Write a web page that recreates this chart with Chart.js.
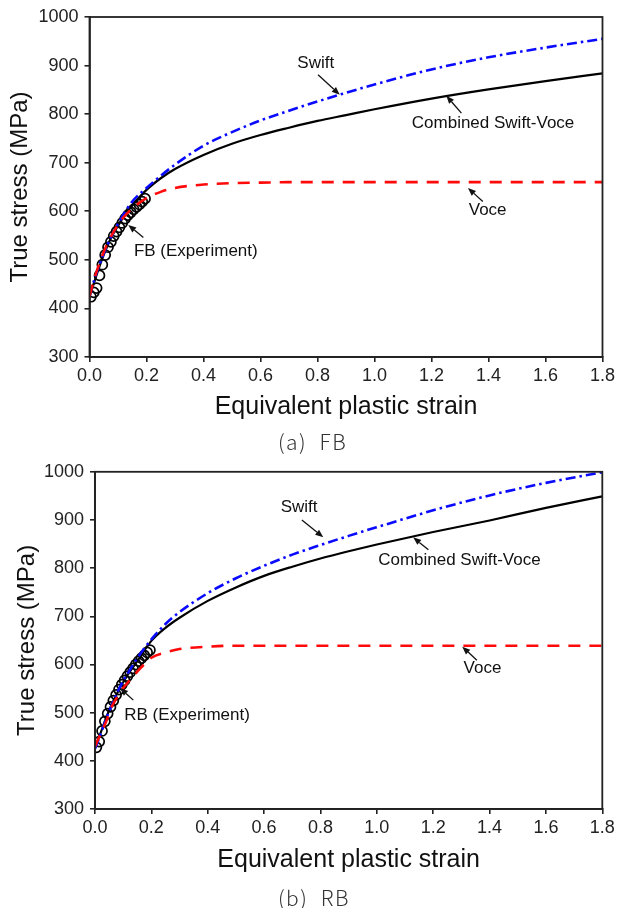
<!DOCTYPE html>
<html>
<head>
<meta charset="utf-8">
<script src="https://cdn.jsdelivr.net/npm/chart.js@4.4.1/dist/chart.umd.min.js"></script>
<style>
  html, body { margin: 0; padding: 0; background: #fff; }
  body { width: 618px; height: 908px; position: relative; overflow: hidden; }
  canvas { position: absolute; left: 0; }
  .cap { position: absolute; left: 278px; font-family: "Noto Sans CJK KR", "Noto Sans", sans-serif; font-weight: 300; font-size: 21px; letter-spacing: 1.5px; color: #333; white-space: pre; line-height: 24px; opacity: 0.999; will-change: transform; }
</style>
</head>
<body>
<canvas id="c1" width="618" height="425" style="top:0px"></canvas>
<canvas id="c2" width="618" height="425" style="top:455px"></canvas>
<div class="cap" style="top:429px">(a)  FB</div>
<div class="cap" style="top:885px">(b)  RB</div>
<script>
// ---------- data ----------
const xTickLabels = ['0.0','0.2','0.4','0.6','0.8','1.0','1.2','1.4','1.6','1.8'];
const yTickLabels = ['300','400','500','600','700','800','900','1000'];

const strainModel = [0, 0.02, 0.04, 0.06, 0.08, 0.1, 0.12, 0.15, 0.2, 0.25, 0.3, 0.4, 0.5, 0.6, 0.7, 0.8, 0.9, 1.0, 1.2, 1.4, 1.6, 1.8];

const fbSwift    = [425, 465, 498, 527, 552, 574, 594, 620, 648, 673, 696, 735, 763, 787, 807, 826, 844, 861, 892, 917, 937, 955];
const fbCombined = [425, 460, 495, 525, 550, 570, 589, 612, 644, 668, 687, 716, 739, 757, 772, 786, 798, 810, 832, 851, 868, 884];
const fbVoce     = [425, 467, 501, 530, 553, 572, 588, 606, 627, 640, 648, 655, 658, 659, 660, 660, 660, 660, 660, 660, 660, 660];

const rbSwift    = [425, 455, 488, 516, 543, 566, 585, 613, 652, 684, 709, 748, 779, 805, 828, 848, 867, 885, 920, 951, 977, 999];
const rbCombined = [428, 458, 490, 518, 542, 563, 582, 607, 649, 676, 697, 732, 760, 784, 803, 820, 835, 849, 875, 899, 925, 949];
const rbVoce     = [430, 456, 482, 513, 533, 551, 565, 585, 614, 625, 632, 637, 639, 639, 639, 639, 639, 639, 639, 639, 639, 639];

const strainExp = [0.005, 0.015, 0.025, 0.035, 0.045, 0.055, 0.065, 0.075, 0.085, 0.095, 0.105, 0.115, 0.125, 0.135, 0.145, 0.155, 0.165, 0.175, 0.185, 0.195];
const fbExp = [424, 433, 442, 468, 490, 510, 526, 537, 549, 558, 567, 576, 585, 592, 598, 604, 609, 614, 620, 626];
const rbExp = [428, 440, 462, 482, 498, 512, 525, 537, 548, 558, 567, 576, 584, 592, 600, 607, 613, 619, 625, 630];

const seriesNames = ['Swift', 'Combined Swift-Voce', 'Voce'];

// annotation labels (text, then text anchor / arrow tail / arrow head in data units)
const fbNotes = [
  { text: 'Swift', at: [0.794, 905], tail: [0.802, 881], head: [0.878, 840] },
  { text: 'Combined Swift-Voce', at: [1.416, 781], tail: [1.305, 802], head: [1.252, 838] },
  { text: 'Voce', at: [1.397, 603], tail: [1.38, 620], head: [1.328, 648] },
  { text: 'FB (Experiment)', at: [0.373, 517], tail: [0.189, 546], head: [0.136, 572] }
];
const rbNotes = [
  { text: 'Swift', at: [0.724, 927], tail: [0.734, 900], head: [0.81, 864] },
  { text: 'Combined Swift-Voce', at: [1.293, 817], tail: [1.183, 838], head: [1.129, 864] },
  { text: 'Voce', at: [1.375, 592], tail: [1.355, 609], head: [1.303, 637] },
  { text: 'RB (Experiment)', at: [0.3265, 494], tail: [0.136, 526], head: [0.089, 551] }
];

// ---------- helpers ----------
const pts = (xs, ys) => xs.map((x, i) => ({ x: x, y: ys[i] }));

const framePlugin = {
  id: 'frame',
  afterDraw(chart) {
    const a = chart.chartArea, ctx = chart.ctx;
    ctx.save();
    ctx.strokeStyle = '#222';
    ctx.lineWidth = 1.8;
    ctx.strokeRect(a.left, a.top, a.right - a.left, a.bottom - a.top);
    ctx.restore();
  }
};

const notePlugin = {
  id: 'notes',
  afterDraw(chart) {
    const notes = chart.options.plugins.notes.items;
    const xs = chart.scales.x, ys = chart.scales.y, ctx = chart.ctx;
    ctx.save();
    notes.forEach(n => {
      const tx = xs.getPixelForValue(n.at[0]), ty = ys.getPixelForValue(n.at[1]);
      ctx.fillStyle = '#111';
      ctx.font = '17px "Liberation Sans", Arial, sans-serif';
      ctx.textAlign = 'center';
      ctx.textBaseline = 'middle';
      ctx.fillText(n.text, tx, ty);
      const x1 = xs.getPixelForValue(n.tail[0]), y1 = ys.getPixelForValue(n.tail[1]);
      const x2 = xs.getPixelForValue(n.head[0]), y2 = ys.getPixelForValue(n.head[1]);
      const ang = Math.atan2(y2 - y1, x2 - x1);
      const L = 8, W = 3.2;
      const bx = x2 - L * Math.cos(ang), by = y2 - L * Math.sin(ang);
      ctx.strokeStyle = '#111';
      ctx.lineWidth = 1.3;
      ctx.beginPath(); ctx.moveTo(x1, y1); ctx.lineTo(bx, by); ctx.stroke();
      ctx.beginPath();
      ctx.moveTo(x2, y2);
      ctx.lineTo(bx + W * Math.sin(ang), by - W * Math.cos(ang));
      ctx.lineTo(bx - W * Math.sin(ang), by + W * Math.cos(ang));
      ctx.closePath();
      ctx.fill();
    });
    ctx.restore();
  }
};

function makeChart(id, swift, comb, voce, exp, notes, geom) {
  const tickFont = { family: '"Liberation Sans", Arial, sans-serif', size: 18 };
  const yTitleFont = { family: '"Liberation Sans", Arial, sans-serif', size: 24 };
  const xTitleFont = { family: '"Liberation Sans", Arial, sans-serif', size: 25 };
  return new Chart(document.getElementById(id), {
    type: 'line',
    data: {
      datasets: [
        { label: seriesNames[0], data: pts(strainModel, swift), borderColor: '#0a0aff', borderWidth: 2.6,
          borderDash: [10, 4, 2.5, 4], pointRadius: 0, cubicInterpolationMode: 'monotone', order: 1 },
        { label: seriesNames[1], data: pts(strainModel, comb), borderColor: '#000', borderWidth: 2.2,
          pointRadius: 0, cubicInterpolationMode: 'monotone', order: 2 },
        { label: seriesNames[2], data: pts(strainModel, voce), borderColor: '#ff0a0a', borderWidth: 2.6,
          borderDash: [12, 9], pointRadius: 0, cubicInterpolationMode: 'monotone', order: 0 },
        { label: 'Experiment', data: pts(strainExp, exp), showLine: false, pointStyle: 'circle', pointRadius: 5,
          pointBorderWidth: 1.7, pointBorderColor: '#000', pointBackgroundColor: 'rgba(0,0,0,0)', order: 5 }
      ]
    },
    options: {
      responsive: false,
      animation: false,
      layout: { padding: { top: geom.top, right: geom.right, left: 0, bottom: 0 } },
      plugins: { legend: { display: false }, tooltip: { enabled: false }, notes: { items: notes } },
      scales: {
        x: {
          type: 'linear', min: 0, max: 1.8,
          afterFit(s) { s.height = geom.xh; },
          afterBuildTicks(s) { s.ticks = xTickLabels.map(t => ({ value: parseFloat(t) })); },
          ticks: { autoSkip: false, maxRotation: 0, padding: 3, color: '#222', font: tickFont,
                   callback: (v, i) => xTickLabels[i] },
          grid: { display: true, drawOnChartArea: false, drawTicks: true, tickLength: 5, color: '#222', lineWidth: 1.6 },
          border: { display: true, color: '#222', width: 1.8 },
          title: { display: true, text: 'Equivalent plastic strain', color: '#111', font: xTitleFont,
                   padding: { top: 0, bottom: geom.xtp } }
        },
        y: {
          type: 'linear', min: 300, max: 1000,
          afterFit(s) { s.width = geom.yw; },
          afterBuildTicks(s) { s.ticks = yTickLabels.map(t => ({ value: parseFloat(t) })); },
          ticks: { padding: 6, color: '#222', font: tickFont, callback: (v, i) => yTickLabels[i] },
          grid: { display: true, drawOnChartArea: false, drawTicks: true, tickLength: 5, color: '#222', lineWidth: 1.6 },
          border: { display: true, color: '#222', width: 1.8 },
          title: { display: true, text: 'True stress (MPa)', color: '#111', font: yTitleFont,
                   padding: { top: geom.ytp, bottom: 0 } }
        }
      }
    },
    plugins: [framePlugin, notePlugin]
  });
}

makeChart('c1', fbSwift, fbCombined, fbVoce, fbExp, fbNotes,
  { top: 17, right: 15, xh: 68, yw: 89.5, xtp: 3, ytp: 6 });
makeChart('c2', rbSwift, rbCombined, rbVoce, rbExp, rbNotes,
  { top: 16.7, right: 15.7, xh: 71, yw: 95, xtp: 5, ytp: 13 });
</script>
</body>
</html>
